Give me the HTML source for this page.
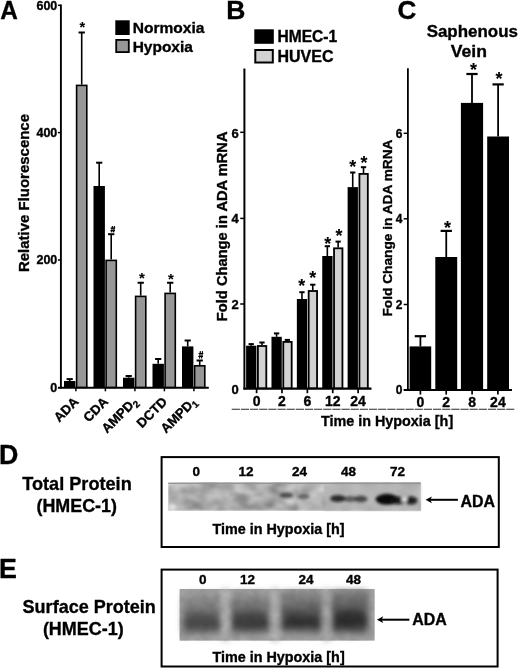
<!DOCTYPE html>
<html><head><meta charset="utf-8"><style>
html,body{margin:0;padding:0;background:#fff;width:520px;height:668px;overflow:hidden;}
svg{display:block;filter:grayscale(1);}
.t text{stroke:#000;stroke-width:0.35px;}
</style></head><body>
<svg width="520" height="668" viewBox="0 0 520 668" font-family="Liberation Sans" font-weight="bold" fill="#000">
<defs>
<filter id="blur1" x="-10%" y="-10%" width="120%" height="120%"><feGaussianBlur stdDeviation="0.8"/></filter>
<filter id="blur2" x="-30%" y="-80%" width="160%" height="260%"><feGaussianBlur stdDeviation="1.8"/></filter>
<filter id="blur3" x="-20%" y="-20%" width="140%" height="140%"><feGaussianBlur stdDeviation="3"/></filter>
<filter id="mottle" color-interpolation-filters="sRGB" x="0" y="0" width="100%" height="100%" filterUnits="objectBoundingBox">
<feTurbulence type="fractalNoise" baseFrequency="0.06 0.09" numOctaves="2" seed="7" result="n"/>
<feColorMatrix in="n" type="matrix" values="0.5 0 0 0 0.42  0.5 0 0 0 0.42  0.5 0 0 0 0.42  0 0 0 0 1"/>
<feGaussianBlur stdDeviation="1"/>
</filter>
<filter id="mottle2" color-interpolation-filters="sRGB" x="0" y="0" width="100%" height="100%" filterUnits="objectBoundingBox">
<feTurbulence type="fractalNoise" baseFrequency="0.1" numOctaves="2" seed="11" result="n"/>
<feColorMatrix in="n" type="matrix" values="1 0 0 0 0.2  1 0 0 0 0.2  1 0 0 0 0.2  0 0 0 0 1"/>
<feGaussianBlur stdDeviation="0.7"/>
</filter>
<linearGradient id="lg1" x1="0" y1="0" x2="0" y2="1"><stop offset="0" stop-color="#9c9c9c"/><stop offset="0.3" stop-color="#858585"/><stop offset="0.5" stop-color="#6a6a6a"/><stop offset="0.72" stop-color="#4c4c4c"/><stop offset="0.86" stop-color="#555"/><stop offset="1" stop-color="#999"/></linearGradient>
<linearGradient id="lg2" x1="0" y1="0" x2="0" y2="1"><stop offset="0" stop-color="#979797"/><stop offset="0.3" stop-color="#7e7e7e"/><stop offset="0.5" stop-color="#606060"/><stop offset="0.72" stop-color="#444"/><stop offset="0.86" stop-color="#4e4e4e"/><stop offset="1" stop-color="#949494"/></linearGradient>
<linearGradient id="lg3" x1="0" y1="0" x2="0" y2="1"><stop offset="0" stop-color="#909090"/><stop offset="0.3" stop-color="#747474"/><stop offset="0.5" stop-color="#555"/><stop offset="0.72" stop-color="#3a3a3a"/><stop offset="0.86" stop-color="#464646"/><stop offset="1" stop-color="#909090"/></linearGradient>
<linearGradient id="lg4" x1="0" y1="0" x2="0" y2="1"><stop offset="0" stop-color="#868686"/><stop offset="0.3" stop-color="#686868"/><stop offset="0.5" stop-color="#4e4e4e"/><stop offset="0.72" stop-color="#343434"/><stop offset="0.86" stop-color="#424242"/><stop offset="1" stop-color="#8c8c8c"/></linearGradient>
</defs>
<g class="t">
<text transform="translate(0.2,19) scale(0.92,1)" font-size="26.5">A</text>
</g>
<line x1="60.90" y1="4.60" x2="60.90" y2="388.60" stroke="#000" stroke-width="1.9"/>
<line x1="57.90" y1="387.70" x2="208.80" y2="387.70" stroke="#000" stroke-width="1.9"/>
<line x1="57.90" y1="260.00" x2="60.90" y2="260.00" stroke="#000" stroke-width="1.5"/>
<line x1="57.90" y1="132.60" x2="60.90" y2="132.60" stroke="#000" stroke-width="1.5"/>
<line x1="57.90" y1="5.30" x2="60.90" y2="5.30" stroke="#000" stroke-width="1.5"/>
<g class="t">
<text x="57.3" y="392.0" font-size="12.5" text-anchor="end" >0</text>
<text x="57.3" y="264.3" font-size="12.5" text-anchor="end" >200</text>
<text x="57.3" y="136.9" font-size="12.5" text-anchor="end" >400</text>
<text x="57.3" y="9.6" font-size="12.5" text-anchor="end" >600</text>
</g>
<line x1="75.90" y1="387.70" x2="75.90" y2="391.30" stroke="#000" stroke-width="1.5"/>
<line x1="105.40" y1="387.70" x2="105.40" y2="391.30" stroke="#000" stroke-width="1.5"/>
<line x1="134.90" y1="387.70" x2="134.90" y2="391.30" stroke="#000" stroke-width="1.5"/>
<line x1="164.40" y1="387.70" x2="164.40" y2="391.30" stroke="#000" stroke-width="1.5"/>
<line x1="193.90" y1="387.70" x2="193.90" y2="391.30" stroke="#000" stroke-width="1.5"/>
<line x1="69.70" y1="381.00" x2="69.70" y2="379.10" stroke="#000" stroke-width="1.6"/>
<line x1="66.60" y1="379.10" x2="72.80" y2="379.10" stroke="#000" stroke-width="2.0"/>
<rect x="64.00" y="381.00" width="11.40" height="6.70" fill="#000"/>
<line x1="81.70" y1="84.60" x2="81.70" y2="32.50" stroke="#000" stroke-width="1.6"/>
<line x1="78.55" y1="32.50" x2="84.85" y2="32.50" stroke="#000" stroke-width="2.0"/>
<rect x="76.60" y="85.40" width="10.20" height="302.00" fill="#979797" stroke="#000" stroke-width="1.6"/>
<line x1="99.20" y1="186.00" x2="99.20" y2="162.70" stroke="#000" stroke-width="1.6"/>
<line x1="96.10" y1="162.70" x2="102.30" y2="162.70" stroke="#000" stroke-width="2.0"/>
<rect x="93.50" y="186.00" width="11.40" height="201.70" fill="#000"/>
<line x1="111.20" y1="259.60" x2="111.20" y2="234.20" stroke="#000" stroke-width="1.6"/>
<line x1="108.05" y1="234.20" x2="114.35" y2="234.20" stroke="#000" stroke-width="2.0"/>
<rect x="106.10" y="260.40" width="10.20" height="127.00" fill="#979797" stroke="#000" stroke-width="1.6"/>
<line x1="128.70" y1="377.70" x2="128.70" y2="376.00" stroke="#000" stroke-width="1.6"/>
<line x1="125.60" y1="376.00" x2="131.80" y2="376.00" stroke="#000" stroke-width="2.0"/>
<rect x="123.00" y="377.70" width="11.40" height="10.00" fill="#000"/>
<line x1="140.70" y1="295.60" x2="140.70" y2="282.75" stroke="#000" stroke-width="1.6"/>
<line x1="137.55" y1="282.75" x2="143.85" y2="282.75" stroke="#000" stroke-width="2.0"/>
<rect x="135.60" y="296.40" width="10.20" height="91.00" fill="#979797" stroke="#000" stroke-width="1.6"/>
<line x1="158.20" y1="363.80" x2="158.20" y2="359.00" stroke="#000" stroke-width="1.6"/>
<line x1="155.10" y1="359.00" x2="161.30" y2="359.00" stroke="#000" stroke-width="2.0"/>
<rect x="152.50" y="363.80" width="11.40" height="23.90" fill="#000"/>
<line x1="170.20" y1="292.60" x2="170.20" y2="282.75" stroke="#000" stroke-width="1.6"/>
<line x1="167.05" y1="282.75" x2="173.35" y2="282.75" stroke="#000" stroke-width="2.0"/>
<rect x="165.10" y="293.40" width="10.20" height="94.00" fill="#979797" stroke="#000" stroke-width="1.6"/>
<line x1="187.70" y1="346.40" x2="187.70" y2="340.50" stroke="#000" stroke-width="1.6"/>
<line x1="184.60" y1="340.50" x2="190.80" y2="340.50" stroke="#000" stroke-width="2.0"/>
<rect x="182.00" y="346.40" width="11.40" height="41.30" fill="#000"/>
<line x1="199.70" y1="365.00" x2="199.70" y2="360.50" stroke="#000" stroke-width="1.6"/>
<line x1="196.55" y1="360.50" x2="202.85" y2="360.50" stroke="#000" stroke-width="2.0"/>
<rect x="194.60" y="365.80" width="10.20" height="21.60" fill="#979797" stroke="#000" stroke-width="1.6"/>
<text x="82.40" y="32.43" font-size="14.58" text-anchor="middle" stroke="#000" stroke-width="0.1">*</text>
<text x="142.00" y="282.96" font-size="14.84" text-anchor="middle" stroke="#000" stroke-width="0.1">*</text>
<text x="171.00" y="283.76" font-size="14.84" text-anchor="middle" stroke="#000" stroke-width="0.1">*</text>
<path d="M111.60,232.40L112.42,226.00M113.52,232.40L114.43,226.00M110.64,228.05L115.20,228.05M110.40,230.61L114.96,230.61" stroke="#000" stroke-width="1.15" fill="none"/>
<path d="M199.55,358.50L200.40,351.10M201.55,358.50L202.50,351.10M198.55,353.47L203.30,353.47M198.30,356.43L203.05,356.43" stroke="#000" stroke-width="1.15" fill="none"/>
<rect x="115.30" y="20.30" width="14.40" height="14.70" fill="#000"/>
<rect x="116.20" y="39.90" width="12.60" height="12.20" fill="#989898" stroke="#000" stroke-width="1.8"/>
<g class="t">
<text x="132.7" y="33.4" font-size="15.5" text-anchor="start" textLength="71.8" lengthAdjust="spacingAndGlyphs" >Normoxia</text>
<text x="132.7" y="52.1" font-size="15.5" text-anchor="start" textLength="60.2" lengthAdjust="spacingAndGlyphs" >Hypoxia</text>
<text transform="translate(28.9,193) rotate(-90)" font-size="15.5" text-anchor="middle" textLength="158" lengthAdjust="spacingAndGlyphs">Relative Fluorescence</text>
<text transform="translate(79.40,402.5) rotate(-45)" font-size="13.2" text-anchor="end">ADA</text>
<text transform="translate(108.90,402.5) rotate(-45)" font-size="13.2" text-anchor="end">CDA</text>
<text transform="translate(138.40,402.5) rotate(-45)" font-size="13.2" text-anchor="end">AMPD<tspan font-size="9.8" dy="3">2</tspan></text>
<text transform="translate(167.90,402.5) rotate(-45)" font-size="13.2" text-anchor="end">DCTD</text>
<text transform="translate(197.40,402.5) rotate(-45)" font-size="13.2" text-anchor="end">AMPD<tspan font-size="9.8" dy="3">1</tspan></text>
</g>
<g class="t">
<text x="226.2" y="19" font-size="26.5" text-anchor="start" >B</text>
</g>
<line x1="244.40" y1="68.50" x2="244.40" y2="389.60" stroke="#000" stroke-width="2.0"/>
<line x1="243.40" y1="388.60" x2="371.50" y2="388.60" stroke="#000" stroke-width="2.1"/>
<line x1="240.20" y1="304.00" x2="244.40" y2="304.00" stroke="#000" stroke-width="1.5"/>
<line x1="240.20" y1="218.40" x2="244.40" y2="218.40" stroke="#000" stroke-width="1.5"/>
<line x1="240.20" y1="132.30" x2="244.40" y2="132.30" stroke="#000" stroke-width="1.5"/>
<g class="t">
<text x="238.8" y="394.0" font-size="13" text-anchor="end" >0</text>
<text x="238.8" y="308.8" font-size="13" text-anchor="end" >2</text>
<text x="238.8" y="223.3" font-size="13" text-anchor="end" >4</text>
<text x="238.8" y="137.6" font-size="13" text-anchor="end" >6</text>
</g>
<line x1="256.60" y1="388.60" x2="256.60" y2="393.20" stroke="#000" stroke-width="1.7"/>
<line x1="281.98" y1="388.60" x2="281.98" y2="393.20" stroke="#000" stroke-width="1.7"/>
<line x1="307.36" y1="388.60" x2="307.36" y2="393.20" stroke="#000" stroke-width="1.7"/>
<line x1="332.74" y1="388.60" x2="332.74" y2="393.20" stroke="#000" stroke-width="1.7"/>
<line x1="358.12" y1="388.60" x2="358.12" y2="393.20" stroke="#000" stroke-width="1.7"/>
<g class="t">
<text x="256.6" y="405.6" font-size="14" text-anchor="middle" >0</text>
<text x="281.98" y="405.6" font-size="14" text-anchor="middle" >2</text>
<text x="307.36" y="405.6" font-size="14" text-anchor="middle" >6</text>
<text x="332.74" y="405.6" font-size="14" text-anchor="middle" >12</text>
<text x="358.12" y="405.6" font-size="14" text-anchor="middle" >24</text>
</g>
<line x1="251.20" y1="345.70" x2="251.20" y2="344.10" stroke="#000" stroke-width="1.6"/>
<line x1="248.55" y1="344.10" x2="253.85" y2="344.10" stroke="#000" stroke-width="2.0"/>
<rect x="246.10" y="345.70" width="10.30" height="42.90" fill="#000"/>
<line x1="262.00" y1="345.10" x2="262.00" y2="342.50" stroke="#000" stroke-width="1.6"/>
<line x1="259.35" y1="342.50" x2="264.65" y2="342.50" stroke="#000" stroke-width="2.0"/>
<rect x="257.90" y="346.00" width="8.40" height="42.20" fill="#d2d2d2" stroke="#000" stroke-width="1.8"/>
<line x1="276.58" y1="336.80" x2="276.58" y2="333.40" stroke="#000" stroke-width="1.6"/>
<line x1="273.93" y1="333.40" x2="279.23" y2="333.40" stroke="#000" stroke-width="2.0"/>
<rect x="271.48" y="336.80" width="10.30" height="51.80" fill="#000"/>
<line x1="287.38" y1="341.00" x2="287.38" y2="339.90" stroke="#000" stroke-width="1.6"/>
<line x1="284.73" y1="339.90" x2="290.03" y2="339.90" stroke="#000" stroke-width="2.0"/>
<rect x="283.28" y="341.90" width="8.40" height="46.30" fill="#d2d2d2" stroke="#000" stroke-width="1.8"/>
<line x1="301.96" y1="299.00" x2="301.96" y2="292.20" stroke="#000" stroke-width="1.6"/>
<line x1="299.31" y1="292.20" x2="304.61" y2="292.20" stroke="#000" stroke-width="2.0"/>
<rect x="296.86" y="299.00" width="10.30" height="89.60" fill="#000"/>
<line x1="312.76" y1="290.10" x2="312.76" y2="284.70" stroke="#000" stroke-width="1.6"/>
<line x1="310.11" y1="284.70" x2="315.41" y2="284.70" stroke="#000" stroke-width="2.0"/>
<rect x="308.66" y="291.00" width="8.40" height="97.20" fill="#d2d2d2" stroke="#000" stroke-width="1.8"/>
<line x1="327.34" y1="256.00" x2="327.34" y2="246.20" stroke="#000" stroke-width="1.6"/>
<line x1="324.69" y1="246.20" x2="329.99" y2="246.20" stroke="#000" stroke-width="2.0"/>
<rect x="322.24" y="256.00" width="10.30" height="132.60" fill="#000"/>
<line x1="338.14" y1="247.40" x2="338.14" y2="241.60" stroke="#000" stroke-width="1.6"/>
<line x1="335.49" y1="241.60" x2="340.79" y2="241.60" stroke="#000" stroke-width="2.0"/>
<rect x="334.04" y="248.30" width="8.40" height="139.90" fill="#d2d2d2" stroke="#000" stroke-width="1.8"/>
<line x1="352.72" y1="187.10" x2="352.72" y2="172.50" stroke="#000" stroke-width="1.6"/>
<line x1="350.07" y1="172.50" x2="355.37" y2="172.50" stroke="#000" stroke-width="2.0"/>
<rect x="347.62" y="187.10" width="10.30" height="201.50" fill="#000"/>
<line x1="363.52" y1="173.00" x2="363.52" y2="167.20" stroke="#000" stroke-width="1.6"/>
<line x1="360.87" y1="167.20" x2="366.17" y2="167.20" stroke="#000" stroke-width="2.0"/>
<rect x="359.42" y="173.90" width="8.40" height="214.30" fill="#d2d2d2" stroke="#000" stroke-width="1.8"/>
<text x="301.70" y="292.43" font-size="17.97" text-anchor="middle" stroke="#000" stroke-width="0.1">*</text>
<text x="312.80" y="283.53" font-size="17.97" text-anchor="middle" stroke="#000" stroke-width="0.1">*</text>
<text x="327.80" y="249.53" font-size="17.97" text-anchor="middle" stroke="#000" stroke-width="0.1">*</text>
<text x="339.00" y="242.43" font-size="17.97" text-anchor="middle" stroke="#000" stroke-width="0.1">*</text>
<text x="352.80" y="172.53" font-size="17.97" text-anchor="middle" stroke="#000" stroke-width="0.1">*</text>
<text x="364.10" y="168.73" font-size="17.97" text-anchor="middle" stroke="#000" stroke-width="0.1">*</text>
<rect x="254.30" y="29.30" width="19.50" height="14.50" fill="#000"/>
<rect x="255.30" y="50.00" width="17.50" height="12.50" fill="#d2d2d2" stroke="#000" stroke-width="2.0"/>
<g class="t">
<text x="277.5" y="42.4" font-size="15.7" text-anchor="start" textLength="59.7" lengthAdjust="spacingAndGlyphs" >HMEC-1</text>
<text x="277.5" y="62.1" font-size="15.7" text-anchor="start" textLength="56" lengthAdjust="spacingAndGlyphs" >HUVEC</text>
<text transform="translate(227.4,226.3) rotate(-90)" font-size="14.5" text-anchor="middle" textLength="189.7" lengthAdjust="spacingAndGlyphs">Fold Change in ADA mRNA</text>
</g>
<g class="t">
<text x="397.6" y="18.6" font-size="26" text-anchor="start" >C</text>
</g>
<line x1="407.90" y1="68.30" x2="407.90" y2="391.00" stroke="#000" stroke-width="1.8"/>
<line x1="403.60" y1="390.00" x2="512.00" y2="390.00" stroke="#000" stroke-width="1.9"/>
<line x1="403.70" y1="304.50" x2="407.90" y2="304.50" stroke="#000" stroke-width="1.5"/>
<line x1="403.70" y1="218.80" x2="407.90" y2="218.80" stroke="#000" stroke-width="1.5"/>
<line x1="403.70" y1="133.30" x2="407.90" y2="133.30" stroke="#000" stroke-width="1.5"/>
<g class="t">
<text x="402.4" y="394.3" font-size="12" text-anchor="end" >0</text>
<text x="402.4" y="308.8" font-size="12" text-anchor="end" >2</text>
<text x="402.4" y="223.10000000000002" font-size="12" text-anchor="end" >4</text>
<text x="402.4" y="137.60000000000002" font-size="12" text-anchor="end" >6</text>
</g>
<line x1="420.40" y1="390.00" x2="420.40" y2="394.60" stroke="#000" stroke-width="1.7"/>
<line x1="446.20" y1="390.00" x2="446.20" y2="394.60" stroke="#000" stroke-width="1.7"/>
<line x1="472.10" y1="390.00" x2="472.10" y2="394.60" stroke="#000" stroke-width="1.7"/>
<line x1="497.90" y1="390.00" x2="497.90" y2="394.60" stroke="#000" stroke-width="1.7"/>
<g class="t">
<text x="420.4" y="406.6" font-size="14" text-anchor="middle" >0</text>
<text x="446.2" y="406.6" font-size="14" text-anchor="middle" >2</text>
<text x="472.1" y="406.6" font-size="14" text-anchor="middle" >8</text>
<text x="497.9" y="406.6" font-size="14" text-anchor="middle" >24</text>
</g>
<line x1="420.40" y1="346.40" x2="420.40" y2="336.20" stroke="#000" stroke-width="1.8"/>
<line x1="414.75" y1="336.20" x2="426.05" y2="336.20" stroke="#000" stroke-width="2.2"/>
<rect x="409.60" y="346.40" width="21.60" height="43.60" fill="#000"/>
<line x1="446.25" y1="257.00" x2="446.25" y2="230.90" stroke="#000" stroke-width="1.8"/>
<line x1="440.60" y1="230.90" x2="451.90" y2="230.90" stroke="#000" stroke-width="2.2"/>
<rect x="435.30" y="257.00" width="21.90" height="133.00" fill="#000"/>
<line x1="472.00" y1="102.90" x2="472.00" y2="74.00" stroke="#000" stroke-width="1.8"/>
<line x1="466.35" y1="74.00" x2="477.65" y2="74.00" stroke="#000" stroke-width="2.2"/>
<rect x="460.90" y="102.90" width="22.20" height="287.10" fill="#000"/>
<line x1="498.10" y1="136.50" x2="498.10" y2="84.40" stroke="#000" stroke-width="1.8"/>
<line x1="492.45" y1="84.40" x2="503.75" y2="84.40" stroke="#000" stroke-width="2.2"/>
<rect x="487.20" y="136.50" width="21.80" height="253.50" fill="#000"/>
<text x="447.50" y="233.73" font-size="17.97" text-anchor="middle" stroke="#000" stroke-width="0.1">*</text>
<text x="473.40" y="75.53" font-size="17.97" text-anchor="middle" stroke="#000" stroke-width="0.1">*</text>
<text x="499.00" y="85.03" font-size="17.97" text-anchor="middle" stroke="#000" stroke-width="0.1">*</text>
<g class="t">
<text x="472.3" y="36.5" font-size="17" text-anchor="middle" textLength="91.3" lengthAdjust="spacingAndGlyphs" >Saphenous</text>
<text x="468.9" y="56.7" font-size="17" text-anchor="middle" textLength="36.2" lengthAdjust="spacingAndGlyphs" >Vein</text>
<text transform="translate(391.8,228) rotate(-90)" font-size="13.5" text-anchor="middle" textLength="177" lengthAdjust="spacingAndGlyphs">Fold Change in ADA mRNA</text>
</g>
<line x1="231.7" y1="409.2" x2="514.3" y2="409.2" stroke="#2a2a2a" stroke-width="1.05" stroke-dasharray="8.2 0.95"/>
<g class="t">
<text x="320.9" y="425.9" font-size="14.7" text-anchor="start" textLength="132.3" lengthAdjust="spacingAndGlyphs" >Time in Hypoxia [h]</text>
</g>
<g class="t">
<text x="-0.9" y="463.7" font-size="26.8" text-anchor="start" >D</text>
<text x="77" y="489.9" font-size="19" text-anchor="middle" textLength="109.5" lengthAdjust="spacingAndGlyphs" >Total Protein</text>
<text x="76.7" y="511.9" font-size="19" text-anchor="middle" textLength="80.5" lengthAdjust="spacingAndGlyphs" >(HMEC-1)</text>
</g>
<rect x="161.6" y="457.1" width="337.2" height="89.9" fill="none" stroke="#000" stroke-width="2"/>
<g class="t">
<text x="196.3" y="475.8" font-size="13.5" text-anchor="middle" >0</text>
<text x="246" y="475.8" font-size="13.5" text-anchor="middle" >12</text>
<text x="299.5" y="475.8" font-size="13.5" text-anchor="middle" >24</text>
<text x="348.5" y="475.8" font-size="13.5" text-anchor="middle" >48</text>
<text x="397.5" y="475.8" font-size="13.5" text-anchor="middle" >72</text>
</g>
<g>
<rect x="168.3" y="482.7" width="252.4" height="28.0" fill="#fff" filter="url(#mottle)"/>
<rect x="298" y="483.5" width="26" height="27.0" fill="#fff" opacity="0.2" filter="url(#blur1)"/>
<rect x="324" y="483.5" width="96.6" height="27.0" fill="#b8b8b8" opacity="0.8" filter="url(#blur1)"/>
<line x1="168.3" y1="483.3" x2="420.7" y2="483.3" stroke="#959595" stroke-width="1.2"/>
<g filter="url(#blur2)">
<ellipse cx="286.5" cy="495.3" rx="6.8" ry="2.8" fill="#222" opacity="0.75"/>
<ellipse cx="303.5" cy="496.5" rx="6.5" ry="2.8" fill="#333" opacity="0.6"/>
<ellipse cx="237" cy="495" rx="9" ry="2.5" fill="#777" opacity="0.3"/>
<ellipse cx="258" cy="495" rx="5" ry="2.5" fill="#666" opacity="0.35"/>
<ellipse cx="172" cy="507" rx="4" ry="3" fill="#e8e8e8" opacity="0.8"/>
<ellipse cx="338" cy="498.5" rx="8" ry="3.6" fill="#111" opacity="0.85"/>
<ellipse cx="350" cy="499" rx="7" ry="3" fill="#333" opacity="0.7"/>
<ellipse cx="361" cy="499" rx="6.5" ry="3.3" fill="#222" opacity="0.75"/>
<ellipse cx="387" cy="499.3" rx="11.5" ry="5.5" fill="#000" opacity="0.95"/>
<ellipse cx="398" cy="500.5" rx="8" ry="4" fill="#111" opacity="0.85"/>
<ellipse cx="411" cy="500.5" rx="6.5" ry="4" fill="#111" opacity="0.9"/>
<ellipse cx="404.5" cy="499.6" rx="2.6" ry="2.3" fill="#f4f4f4" opacity="0.95"/>
</g></g>
<line x1="428.50" y1="499.80" x2="457.90" y2="499.80" stroke="#000" stroke-width="2.0"/>
<path d="M425.6,499.8 L431.9,496.4 L430.4,499.8 L431.9,503.2 Z" fill="#000"/>
<g class="t">
<text x="460.5" y="507.2" font-size="16" text-anchor="start" textLength="34.5" lengthAdjust="spacingAndGlyphs" >ADA</text>
<text x="212.5" y="534" font-size="14.6" text-anchor="start" textLength="132.1" lengthAdjust="spacingAndGlyphs" >Time in Hypoxia [h]</text>
</g>
<g class="t">
<text x="-0.9" y="577.8" font-size="26.8" text-anchor="start" >E</text>
<text x="89.2" y="613.4" font-size="19" text-anchor="middle" textLength="133.2" lengthAdjust="spacingAndGlyphs" >Surface Protein</text>
<text x="83.3" y="634.5" font-size="19" text-anchor="middle" textLength="80.8" lengthAdjust="spacingAndGlyphs" >(HMEC-1)</text>
</g>
<rect x="161.6" y="569.6" width="336.0" height="96.9" fill="none" stroke="#000" stroke-width="2"/>
<g class="t">
<text x="202.7" y="584.4" font-size="13.5" text-anchor="middle" >0</text>
<text x="247.5" y="584.4" font-size="13.5" text-anchor="middle" >12</text>
<text x="306" y="584.4" font-size="13.5" text-anchor="middle" >24</text>
<text x="353.5" y="584.4" font-size="13.5" text-anchor="middle" >48</text>
</g>
<g>
<rect x="179.7" y="589" width="194.9" height="51.6" fill="#a6a6a6"/>
<g filter="url(#blur3)">
<rect x="222" y="589" width="7" height="52" fill="#bcbcbc"/>
<rect x="271" y="589" width="8" height="52" fill="#b6b6b6"/>
<rect x="323.5" y="589" width="6.5" height="52" fill="#b4b4b4"/>
<rect x="182.5" y="593" width="38.5" height="42" rx="5" fill="url(#lg1)"/>
<rect x="230.5" y="592" width="39.5" height="43" rx="5" fill="url(#lg2)"/>
<rect x="280.5" y="591" width="42" height="43" rx="5" fill="url(#lg3)"/>
<rect x="331" y="590" width="37" height="45" rx="5" fill="url(#lg4)"/>
<ellipse cx="202" cy="620.5" rx="15" ry="7" fill="#3a3a3a" opacity="0.3"/>
<ellipse cx="250.5" cy="620" rx="16" ry="9.5" fill="#333" opacity="0.45"/>
<ellipse cx="301.5" cy="621" rx="17" ry="7.5" fill="#2a2a2a" opacity="0.5"/>
<ellipse cx="349.5" cy="618.5" rx="15" ry="9.5" fill="#222" opacity="0.5"/>
</g>
<rect x="179.7" y="589" width="194.9" height="51.6" fill="#fff" filter="url(#mottle2)" opacity="0.18" style="mix-blend-mode:multiply"/>
</g>
<line x1="380.00" y1="619.70" x2="409.40" y2="619.70" stroke="#000" stroke-width="2.0"/>
<path d="M376.9,619.7 L383.2,616.3 L381.7,619.7 L383.2,623.1 Z" fill="#000"/>
<g class="t">
<text x="412.3" y="624.6" font-size="16" text-anchor="start" textLength="34.5" lengthAdjust="spacingAndGlyphs" >ADA</text>
<text x="212.4" y="661.5" font-size="14.6" text-anchor="start" textLength="132.3" lengthAdjust="spacingAndGlyphs" >Time in Hypoxia [h]</text>
</g>
</svg>
</body></html>
